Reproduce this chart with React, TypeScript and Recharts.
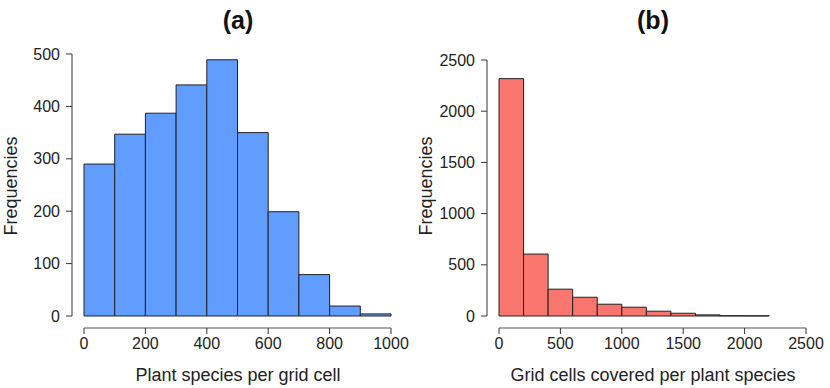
import React from 'react';
import { ComposedChart, XAxis, YAxis, ReferenceArea, Line } from 'recharts';

// Panel (a): plant species per grid cell
const binStartA = [0, 100, 200, 300, 400, 500, 600, 700, 800, 900];
const binEndA = [100, 200, 300, 400, 500, 600, 700, 800, 900, 1000];
const countsA = [290, 347, 387, 441, 489, 350, 199, 79, 19, 4];
const xTicksA = [0, 200, 400, 600, 800, 1000];
const yTicksA = [0, 100, 200, 300, 400, 500];

// Panel (b): grid cells covered per plant species
const binStartB = [0, 200, 400, 600, 800, 1000, 1200, 1400, 1600, 1800, 2000];
const binEndB = [200, 400, 600, 800, 1000, 1200, 1400, 1600, 1800, 2000, 2200];
const countsB = [2318, 605, 262, 183, 115, 86, 47, 27, 11, 3, 2];
const xTicksB = [0, 500, 1000, 1500, 2000, 2500];
const yTicksB = [0, 500, 1000, 1500, 2000, 2500];

const FONT = '"Liberation Sans", Arial, Helvetica, sans-serif';
const AXIS_COLOR = '#555';
const TICK_COLOR = '#333';
const TEXT_COLOR = '#222';
const GAP = 12; // R-style detached axes
const TICK_LEN = 6;

const YTick = (props: any) => {
  const { x, y, payload } = props;
  return (
    <g>
      <line x1={x - GAP - TICK_LEN} x2={x - GAP} y1={y} y2={y} stroke={TICK_COLOR} strokeWidth={1} />
      <text x={x - GAP - TICK_LEN - 6} y={y + 5.5} textAnchor="end" fontSize={16} fill={TEXT_COLOR} fontFamily={FONT}>
        {payload.value}
      </text>
    </g>
  );
};

const XTick = (props: any) => {
  const { x, y, payload } = props;
  return (
    <g>
      <line x1={x} x2={x} y1={y + GAP} y2={y + GAP + TICK_LEN} stroke={TICK_COLOR} strokeWidth={1} />
      <text x={x} y={y + GAP + 21} textAnchor="middle" fontSize={16} fill={TEXT_COLOR} fontFamily={FONT}>
        {payload.value}
      </text>
    </g>
  );
};

type PanelProps = {
  title: string;
  xLabel: string;
  starts: number[];
  ends: number[];
  counts: number[];
  xTicks: number[];
  yTicks: number[];
  fill: string;
  top: number;
};

const Y_AXIS_W = 60;
const X_AXIS_H = 30;

function Panel({ title, xLabel, starts, ends, counts, xTicks, yTicks, fill, top }: PanelProps) {
  const data = starts.map((s, i) => ({ mid: (s + ends[i]) / 2, count: counts[i] }));
  const xMax = xTicks[xTicks.length - 1];
  const yMax = yTicks[yTicks.length - 1];
  return (
    <ComposedChart
      width={415}
      height={388}
      data={data}
      margin={{ top, right: 24, bottom: 72 - X_AXIS_H, left: 84 - Y_AXIS_W }}
      style={{ fontFamily: FONT }}
    >
      <XAxis
        type="number"
        dataKey="mid"
        domain={[0, xMax]}
        ticks={xTicks}
        interval={0}
        height={X_AXIS_H}
        tickSize={0}
        tickMargin={0}
        tickLine={false}
        tick={<XTick />}
        stroke={AXIS_COLOR}
        axisLine={{ stroke: AXIS_COLOR, strokeWidth: 1.2 }}
        className="shift-x"
        allowDataOverflow
      />
      <YAxis
        type="number"
        domain={[0, yMax]}
        ticks={yTicks}
        interval={0}
        width={Y_AXIS_W}
        tickSize={0}
        tickMargin={0}
        tickLine={false}
        tick={<YTick />}
        stroke={AXIS_COLOR}
        axisLine={{ stroke: AXIS_COLOR, strokeWidth: 1.2 }}
        className="shift-y"
        allowDataOverflow
      />
      {starts.map((s, i) => (
        <ReferenceArea
          key={i}
          x1={s}
          x2={ends[i]}
          y1={0}
          y2={counts[i]}
          fill={fill}
          fillOpacity={1}
          stroke="#222"
          strokeWidth={1}
          strokeOpacity={1}
          ifOverflow="visible"
        />
      ))}
      <Line dataKey="count" stroke="none" dot={false} activeDot={false} isAnimationActive={false} legendType="none" />
      <text x={238} y={29} textAnchor="middle" fontSize={25} fontWeight="bold" fill="#111" fontFamily={FONT}>
        {title}
      </text>
      <text x={238} y={381} textAnchor="middle" fontSize={18} fill={TEXT_COLOR} fontFamily={FONT}>
        {xLabel}
      </text>
      <text
        transform="translate(16.5, 186) rotate(-90)"
        x={0}
        y={0}
        textAnchor="middle"
        fontSize={18}
        fill={TEXT_COLOR}
        fontFamily={FONT}
      >
        Frequencies
      </text>
    </ComposedChart>
  );
}

export default function App() {
  return (
    <div style={{ position: 'absolute', left: 0, top: 0, width: 830, height: 388, background: '#fff', display: 'flex' }}>
      <style>{`
        .recharts-xAxis .recharts-cartesian-axis-line, line.recharts-cartesian-axis-line[orientation="bottom"] { transform: translate(0px, ${GAP}px); }
        .recharts-yAxis .recharts-cartesian-axis-line, line.recharts-cartesian-axis-line[orientation="left"] { transform: translate(-${GAP}px, 0px); }
      `}</style>
      <Panel
        title="(a)"
        xLabel="Plant species per grid cell"
        starts={binStartA}
        ends={binEndA}
        counts={countsA}
        xTicks={xTicksA}
        yTicks={yTicksA}
        fill="#619CFF"
        top={54}
      />
      <Panel
        title="(b)"
        xLabel="Grid cells covered per plant species"
        starts={binStartB}
        ends={binEndB}
        counts={countsB}
        xTicks={xTicksB}
        yTicks={yTicksB}
        fill="#F8766D"
        top={60}
      />
    </div>
  );
}
